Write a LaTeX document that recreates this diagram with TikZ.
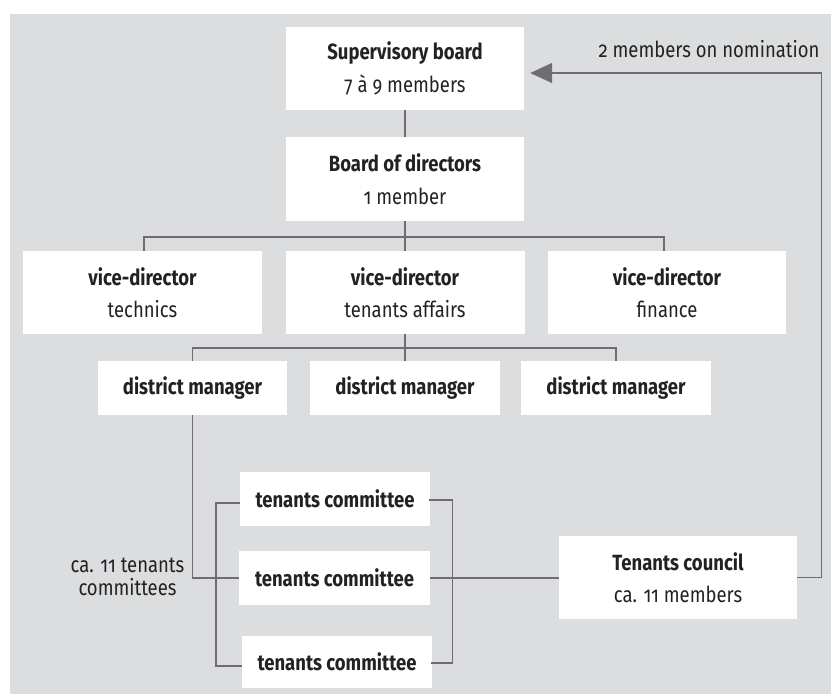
\documentclass[tikz,border=0pt]{standalone}
\usepackage{fontspec}
\setmainfont{Fira Sans}[Numbers=OldStyle,FakeStretch=0.84]
\usetikzlibrary{arrows.meta}
\definecolor{bggray}{HTML}{DCDDDF}
\definecolor{linegray}{HTML}{6E6E70}
\definecolor{txt}{HTML}{222222}
\tikzset{
  box/.style={draw=none,fill=white,rectangle,inner sep=0pt,align=center,text=txt,
    font=\fontsize{22}{32.5}\selectfont},
  conn/.style={draw=linegray,line width=1.4pt},
  lbl/.style={inner sep=0pt,text=txt,font=\fontsize{22}{22.5}\selectfont,align=center}
}
\begin{document}
\begin{tikzpicture}[x=1pt,y=-1pt]
\useasboundingbox (0,0) rectangle (831,694);
\fill[bggray] (10,14) rectangle (831,694);
% boxes
\node[box,minimum width=238pt,minimum height=83pt] (sup) at (405,68.5) {\textbf{Supervisory board}\\7 à 9 members};
\node[box,minimum width=238pt,minimum height=84pt] (bod) at (405,179) {\textbf{Board of directors}\\1 member};
\node[box,minimum width=239pt,minimum height=83pt] (vt) at (142.5,292.5) {\textbf{vice-director}\\technics};
\node[box,minimum width=239pt,minimum height=83pt] (va) at (405,292.5) {\textbf{vice-director}\\tenants affairs};
\node[box,minimum width=238pt,minimum height=83pt] (vf) at (667,292.5) {\textbf{vice-director}\\finance};
\node[box,minimum width=189pt,minimum height=54pt] (dm1) at (192.5,388) {\textbf{district manager}};
\node[box,minimum width=190pt,minimum height=54pt] (dm2) at (405,388) {\textbf{district manager}};
\node[box,minimum width=190pt,minimum height=54pt] (dm3) at (616,388) {\textbf{district manager}};
\node[box,minimum width=190pt,minimum height=54pt] (tc1) at (335,499) {\textbf{tenants committee}};
\node[box,minimum width=191pt,minimum height=54pt] (tc2) at (334.5,578) {\textbf{tenants committee}};
\node[box,minimum width=190pt,minimum height=52pt] (tc3) at (337,662) {\textbf{tenants committee}};
\node[box,minimum width=238pt,minimum height=83pt] (tcl) at (678,577.5) {\textbf{Tenants council}\\ca. 11 members};
% labels
\node[lbl] (nom) at (709,49) {2 members on nomination};
\node[lbl] (cnt) at (127.5,577) {ca. 11 tenants\\committees};
% connectors
\draw[conn] (sup.south) -- (bod.north);
\draw[conn] (bod.south) -- (va.north);
\draw[conn] ([xshift=1.5pt]vt.north) -- ++(0,-14) -| ([xshift=-3pt]vf.north);
\draw[conn] (va.south) -- (dm2.north);
\draw[conn] (dm1.north) -- ++(0,-13) -| (dm3.north);
\draw[conn] (dm1.south) |- (tc2.west);
\draw[conn] ([yshift=-4pt]tc1.west) -- ++(-24,0) |- ([yshift=-4pt]tc3.west);
\draw[conn] ([yshift=-1pt,xshift=-1pt]tc1.east) -- ++(23,0) |- ([yshift=-1pt,xshift=-1pt]tc3.east);
\draw[conn] (tc2.east) -- (tc2.east -| tcl.west);
\draw[conn,-{Triangle[length=22pt,width=20pt]},color=linegray] (tcl.east) -- ++(24,0) |- ([xshift=6pt,yshift=-4.5pt]sup.east);
\end{tikzpicture}
\end{document}
